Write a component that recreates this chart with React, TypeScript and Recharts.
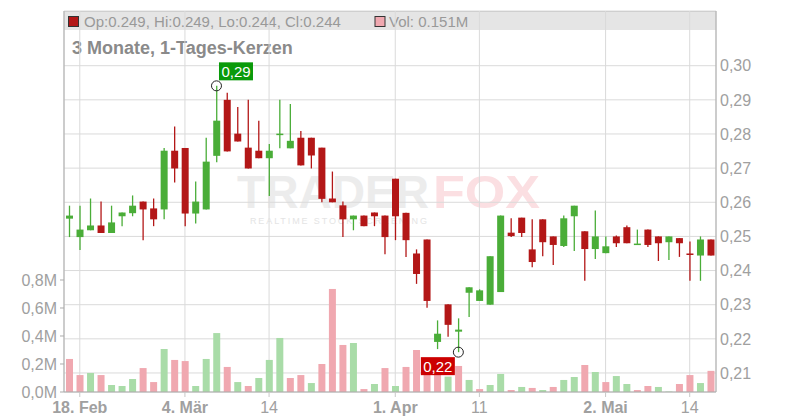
import React from 'react';
import { ComposedChart, Bar, Cell, XAxis, YAxis, CartesianGrid, ReferenceDot } from 'recharts';

// trading days 15.02.2019 - 16.05.2019
const DATES = [
  '15.02', '18.02', '19.02', '20.02', '21.02', '22.02', '25.02', '26.02', '27.02', '28.02',
  '01.03', '04.03', '05.03', '06.03', '07.03', '08.03', '11.03', '12.03', '13.03', '14.03',
  '15.03', '18.03', '19.03', '20.03', '21.03', '22.03', '25.03', '26.03', '27.03', '28.03',
  '29.03', '01.04', '02.04', '03.04', '04.04', '05.04', '08.04', '09.04', '10.04', '11.04',
  '12.04', '15.04', '16.04', '17.04', '18.04', '23.04', '24.04', '25.04', '26.04', '29.04',
  '30.04', '02.05', '03.05', '06.05', '07.05', '08.05', '09.05', '10.05', '13.05', '14.05',
  '15.05', '16.05',
];

const OPEN = [
  0.2552, 0.2498, 0.2518, 0.2532, 0.2510, 0.2559, 0.2568, 0.2602, 0.2582, 0.2579,
  0.2751, 0.2759, 0.2567, 0.2579, 0.2736, 0.2900, 0.2801, 0.2760, 0.2751, 0.2729,
  0.2800, 0.2758, 0.2789, 0.2789, 0.2760, 0.2611, 0.2591, 0.2550, 0.2561, 0.2570,
  0.2561, 0.2669, 0.2569, 0.2450, 0.2491, 0.2191, 0.2301, 0.2221, 0.2335, 0.2311,
  0.2300, 0.2337, 0.2511, 0.2555, 0.2462, 0.2550, 0.2500, 0.2472, 0.2559, 0.2515,
  0.2463, 0.2451, 0.2500, 0.2527, 0.2478, 0.2520, 0.2500, 0.2483, 0.2495, 0.2450,
  0.2444, 0.2491,
];
const HIGH = [
  0.2590, 0.2590, 0.2611, 0.2602, 0.2590, 0.2570, 0.2620, 0.2602, 0.2611, 0.2759,
  0.2822, 0.2759, 0.2661, 0.2789, 0.2941, 0.2921, 0.2879, 0.2900, 0.2839, 0.2771,
  0.2900, 0.2888, 0.2809, 0.2789, 0.2760, 0.2690, 0.2602, 0.2561, 0.2561, 0.2570,
  0.2561, 0.2669, 0.2569, 0.2462, 0.2491, 0.2254, 0.2301, 0.2260, 0.2351, 0.2345,
  0.2442, 0.2561, 0.2553, 0.2555, 0.2550, 0.2550, 0.2500, 0.2561, 0.2590, 0.2515,
  0.2576, 0.2500, 0.2503, 0.2532, 0.2520, 0.2520, 0.2500, 0.2500, 0.2495, 0.2485,
  0.2500, 0.2491,
];
const LOW = [
  0.2498, 0.2460, 0.2518, 0.2510, 0.2510, 0.2530, 0.2559, 0.2489, 0.2530, 0.2550,
  0.2658, 0.2530, 0.2538, 0.2579, 0.2717, 0.2749, 0.2778, 0.2699, 0.2729, 0.2618,
  0.2758, 0.2758, 0.2708, 0.2699, 0.2600, 0.2600, 0.2498, 0.2518, 0.2530, 0.2530,
  0.2448, 0.2489, 0.2440, 0.2361, 0.2291, 0.2170, 0.2206, 0.2161, 0.2264, 0.2311,
  0.2300, 0.2337, 0.2498, 0.2498, 0.2410, 0.2442, 0.2416, 0.2469, 0.2457, 0.2370,
  0.2434, 0.2451, 0.2469, 0.2480, 0.2478, 0.2469, 0.2428, 0.2431, 0.2440, 0.2370,
  0.2370, 0.2444,
];
const CLOSE = [
  0.2561, 0.2520, 0.2532, 0.2510, 0.2541, 0.2570, 0.2590, 0.2579, 0.2550, 0.2751,
  0.2699, 0.2567, 0.2602, 0.2719, 0.2839, 0.2749, 0.2778, 0.2699, 0.2729, 0.2751,
  0.2801, 0.2780, 0.2708, 0.2737, 0.2610, 0.2600, 0.2550, 0.2561, 0.2530, 0.2559,
  0.2498, 0.2559, 0.2489, 0.2390, 0.2311, 0.2215, 0.2241, 0.2227, 0.2351, 0.2342,
  0.2442, 0.2561, 0.2501, 0.2510, 0.2425, 0.2483, 0.2475, 0.2553, 0.2590, 0.2463,
  0.2500, 0.2471, 0.2480, 0.2480, 0.2479, 0.2475, 0.2480, 0.2500, 0.2480, 0.2448,
  0.2491, 0.2444,
];
// volume in millions
const VOLUME = [
  0.236, 0.121, 0.136, 0.121, 0.050, 0.043, 0.093, 0.171, 0.071, 0.307,
  0.229, 0.221, 0.043, 0.236, 0.421, 0.179, 0.071, 0.043, 0.100, 0.229,
  0.386, 0.100, 0.121, 0.064, 0.200, 0.736, 0.336, 0.350, 0.021, 0.057,
  0.171, 0.043, 0.179, 0.300, 0.200, 0.170, 0.110, 0.186, 0.086, 0.021,
  0.050, 0.129, 0.014, 0.036, 0.029, 0.014, 0.036, 0.086, 0.107, 0.193,
  0.143, 0.071, 0.114, 0.057, 0.014, 0.043, 0.036, 0.003, 0.057, 0.121,
  0.064, 0.151,
];
const PREV_CLOSE = 0.257; // close of 14.02., colours the first volume bar

const TICK_LABELS: Record<string, string> = {
  '18.02': '18. Feb',
  '04.03': '4. Mär',
  '14.03': '14',
  '01.04': '1. Apr',
  '11.04': '11',
  '02.05': '2. Mai',
  '14.05': '14',
};
const X_TICKS = Object.keys(TICK_LABELS);
const PRICE_TICKS = [0.21, 0.22, 0.23, 0.24, 0.25, 0.26, 0.27, 0.28, 0.29, 0.3];
const VOL_TICKS = [0, 0.2, 0.4, 0.6, 0.8];

const GREEN = '#4aad38';
const RED = '#b31717';
const VOL_UP = '#a9dca8';
const VOL_DOWN = '#f0a8b0';
const GRID = '#dadada';
const AXIS = '#ababab';
const LABEL = '#a0a0a0';
const FONT = '"Liberation Sans", Arial, Helvetica, sans-serif';

const data = DATES.map((date, i) => ({
  date,
  open: OPEN[i],
  high: HIGH[i],
  low: LOW[i],
  close: CLOSE[i],
  vol: VOLUME[i],
  volUp: CLOSE[i] >= (i === 0 ? PREV_CLOSE : CLOSE[i - 1]),
}));

const maxIdx = HIGH.indexOf(Math.max(...HIGH));
const minIdx = LOW.indexOf(Math.min(...LOW));
const last = data[data.length - 1];

const comma = (v: number, d: number) => v.toFixed(d).replace('.', ',');

function Candle(props: any) {
  const { x, y, width, height, payload } = props;
  if (!payload || height == null) return null;
  const { open, high, low, close } = payload;
  const top = Math.min(y, y + height);
  const h = Math.abs(height);
  const k = high > low ? h / (high - low) : 0;
  const yO = top + (high - open) * k;
  const yC = top + (high - close) * k;
  const color = close >= open ? GREEN : RED;
  const cx = x + width / 2;
  const bodyTop = Math.min(yO, yC);
  const bodyH = Math.max(Math.abs(yO - yC), 1.5);
  return (
    <g>
      <line x1={cx} x2={cx} y1={top} y2={top + h} stroke={color} strokeWidth={1.3} />
      <rect x={x} y={bodyTop} width={width} height={bodyH} fill={color} />
    </g>
  );
}

function XTick(props: any) {
  const { x, y, payload } = props;
  const label = TICK_LABELS[payload.value] || '';
  const bold = !/^\d+$/.test(label);
  return (
    <text x={x} y={y} dy={13.5} textAnchor="middle" fill={LABEL} fontSize={16} fontWeight={bold ? 'bold' : 'normal'}>
      {label}
    </text>
  );
}

function HighMark(props: any) {
  const { cx, cy } = props;
  return (
    <g>
      <circle cx={cx} cy={cy} r={5} fill="none" stroke="#222" strokeWidth={1} />
      <rect x={cx + 2.5} y={cy - 23.5} width={34} height={18} fill="#0a9a0a" />
      <text x={cx + 19.5} y={cy - 9} textAnchor="middle" fill="#fff" fontSize={15}>
        {comma(HIGH[maxIdx], 2)}
      </text>
    </g>
  );
}

function LowMark(props: any) {
  const { cx, cy } = props;
  return (
    <g>
      <circle cx={cx} cy={cy} r={5} fill="none" stroke="#222" strokeWidth={1} />
      <rect x={cx - 37.5} y={cy + 5} width={34} height={18} fill="#cc0000" />
      <text x={cx - 20.5} y={cy + 19.5} textAnchor="middle" fill="#fff" fontSize={15}>
        {comma(LOW[minIdx], 2)}
      </text>
    </g>
  );
}

export default function App() {
  return (
    <div style={{ position: 'absolute', left: 0, top: 0, width: 800, height: 420, fontFamily: FONT, background: '#fff' }}>
      <svg width={800} height={420} style={{ position: 'absolute', left: 0, top: 0 }}>
        {/* header strip */}
        <rect x={64} y={11} width={652} height={19} fill="#e5e5e5" />
        <line x1={64} x2={716} y1={11.5} y2={11.5} stroke="#c4c4c4" />
        <rect x={68.5} y={16.5} width={10} height={10} fill={RED} stroke="#333" />
        <text x={84} y={27.3} fontSize={15} fill="#999">
          {`Op:${last.open.toFixed(3)}, Hi:${last.high.toFixed(3)}, Lo:${last.low.toFixed(3)}, Cl:${last.close.toFixed(3)}`}
        </text>
        <rect x={375} y={16.5} width={10} height={10} fill={VOL_DOWN} stroke="#333" />
        <text x={389} y={27.3} fontSize={15} fill="#999">
          {`Vol: ${last.vol.toFixed(3)}M`}
        </text>
        <text x={72} y={54} fontSize={18} fontWeight="bold" fill="#8a8a8a">
          3 Monate, 1-Tages-Kerzen
        </text>
        {/* watermark */}
        <text x={237} y={208} fontSize={46} fontWeight="bold" fill="#ececec" textLength={192} lengthAdjust="spacingAndGlyphs">
          TRADER
        </text>
        <text x={433} y={208} fontSize={46} fontWeight="bold" fill="#fbdfe2" textLength={107} lengthAdjust="spacingAndGlyphs">
          FOX
        </text>
        <text x={250} y={224} fontSize={9} fill="#e4e4e4" textLength={177} lengthAdjust="spacing">
          REALTIME STOCK SCREENING
        </text>
      </svg>
      <div style={{ position: 'absolute', left: 0, top: 0 }}>
        <ComposedChart width={800} height={420} data={data} margin={{ top: 11, right: 0, bottom: 0, left: 0 }}>
          <CartesianGrid xAxisId="x" yAxisId="price" stroke={GRID} vertical horizontal />
          <XAxis
            xAxisId="x"
            dataKey="date"
            ticks={X_TICKS}
            interval={0}
            tick={<XTick />}
            tickSize={5}
            tickMargin={2}
            stroke={AXIS}
            tickLine={{ stroke: '#c8c8c8' }}
            height={28}
          />
          <XAxis xAxisId="xv" dataKey="date" hide />
          <YAxis
            yAxisId="price"
            orientation="right"
            domain={[0.20443, 0.31602]}
            allowDataOverflow
            ticks={PRICE_TICKS}
            interval={0}
            tickFormatter={(v: number) => comma(v, 2)}
            tick={{ fill: LABEL, fontSize: 16 }}
            tickLine={false}
            tickSize={0}
            tickMargin={4}
            stroke={AXIS}
            width={84}
          />
          <YAxis
            yAxisId="vol"
            orientation="left"
            domain={[0, 2.7214]}
            allowDataOverflow
            ticks={VOL_TICKS}
            interval={0}
            tickFormatter={(v: number) => comma(v, 1) + 'M'}
            tick={{ fill: LABEL, fontSize: 16 }}
            tickSize={4}
            tickMargin={3}
            stroke={AXIS}
            width={64}
          />
          <Bar xAxisId="xv" yAxisId="vol" dataKey="vol" barSize={7} isAnimationActive={false}>
            {data.map((d, i) => (
              <Cell key={`v-${i}`} fill={d.volUp ? VOL_UP : VOL_DOWN} />
            ))}
          </Bar>
          <Bar
            xAxisId="x"
            yAxisId="price"
            dataKey={(d: any) => [d.low, d.high]}
            barSize={7}
            shape={<Candle />}
            isAnimationActive={false}
          />
          <ReferenceDot
            xAxisId="x"
            yAxisId="price"
            x={DATES[maxIdx]}
            y={HIGH[maxIdx]}
            r={5}
            shape={(p: any) => <HighMark {...p} />}
          />
          <ReferenceDot
            xAxisId="x"
            yAxisId="price"
            x={DATES[minIdx]}
            y={LOW[minIdx]}
            r={5}
            shape={(p: any) => <LowMark {...p} />}
          />
        </ComposedChart>
      </div>
    </div>
  );
}
